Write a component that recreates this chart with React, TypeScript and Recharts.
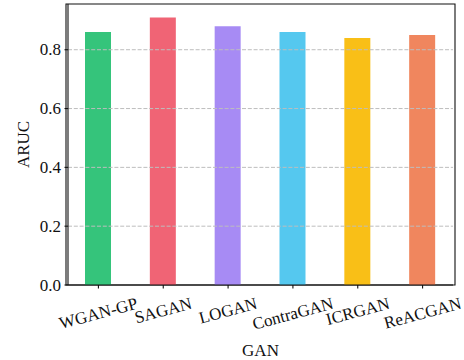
import React from "react";
import {
  Bar,
  BarChart,
  Cell,
  ReferenceArea,
  ReferenceLine,
  XAxis,
  YAxis,
} from "recharts";

const MODELS = ["WGAN-GP", "SAGAN", "LOGAN", "ContraGAN", "ICRGAN", "ReACGAN"];
const ARUC = [0.86, 0.91, 0.88, 0.86, 0.84, 0.85];
const BAR_COLORS = ["#35C47B", "#F06475", "#A78BF4", "#55C8EF", "#F9BF17", "#F0865E"];
const Y_TICKS = [0, 0.2, 0.4, 0.6, 0.8];
const GRID_TICKS = [0.2, 0.4, 0.6, 0.8];
const Y_MAX = 0.9555;

const FONT = "'Liberation Serif', 'Times New Roman', serif";
const FONT_SIZE = 17;
const AXIS_COLOR = "#111";
const GRID_COLOR = "#bdbdbd";
const ROTATION = 15;

const data = MODELS.map((name, i) => ({ name, aruc: ARUC[i] }));

let measureCtx: CanvasRenderingContext2D | null = null;
function textWidth(s: string) {
  if (!measureCtx) {
    measureCtx = document.createElement("canvas").getContext("2d");
  }
  if (!measureCtx) return s.length * FONT_SIZE * 0.6;
  measureCtx.font = `${FONT_SIZE}px 'Liberation Serif'`;
  return measureCtx.measureText(s).width;
}

function RotatedTick(props: any) {
  const { x, y, payload } = props;
  const w = textWidth(String(payload.value));
  const rad = (ROTATION * Math.PI) / 180;
  const cy = y + (w * Math.sin(rad) + 22) / 2;
  return (
    <text
      x={x}
      y={cy}
      textAnchor="middle"
      dominantBaseline="central"
      transform={`rotate(${-ROTATION} ${x} ${cy})`}
      fill={AXIS_COLOR}
      fontFamily={FONT}
      fontSize={FONT_SIZE}
    >
      {payload.value}
    </text>
  );
}

function ValueTick(props: any) {
  const { x, y, payload } = props;
  return (
    <text
      x={x}
      y={y}
      textAnchor="end"
      dominantBaseline="central"
      fill={AXIS_COLOR}
      fontFamily={FONT}
      fontSize={FONT_SIZE}
    >
      {Number(payload.value).toFixed(1)}
    </text>
  );
}

export default function App() {
  return (
    <div style={{ position: "absolute", left: 0, top: 0, background: "#fff" }}>
      <BarChart
        width={464}
        height={360}
        data={data}
        margin={{ top: 4, right: 11, left: 0, bottom: 0 }}
        barCategoryGap={0}
      >
        <XAxis
          dataKey="name"
          height={75}
          padding={{ left: -2, right: -2 }}
          interval={0}
          tickSize={3.5}
          tickMargin={3.5}
          axisLine={{ stroke: AXIS_COLOR, strokeWidth: 1.1 }}
          tickLine={{ stroke: AXIS_COLOR, strokeWidth: 1.1 }}
          tick={<RotatedTick />}
          label={(p: any) => {
            const vb = p.viewBox;
            return (
              <text
                x={vb.x + vb.width / 2}
                y={356}
                textAnchor="middle"
                fill={AXIS_COLOR}
                fontFamily={FONT}
                fontSize={FONT_SIZE}
              >
                GAN
              </text>
            );
          }}
        />
        <YAxis
          type="number"
          domain={[0, Y_MAX]}
          ticks={Y_TICKS}
          width={68}
          allowDataOverflow
          tickSize={3.5}
          tickMargin={3.5}
          axisLine={{ stroke: AXIS_COLOR, strokeWidth: 1.1 }}
          tickLine={{ stroke: AXIS_COLOR, strokeWidth: 1.1 }}
          tick={<ValueTick />}
          label={(p: any) => {
            const vb = p.viewBox;
            const lx = vb.x + 23;
            const ly = vb.y + vb.height / 2;
            return (
              <text
                x={lx}
                y={ly}
                textAnchor="middle"
                dominantBaseline="central"
                transform={`rotate(-90 ${lx} ${ly})`}
                fill={AXIS_COLOR}
                fontFamily={FONT}
                fontSize={FONT_SIZE}
              >
                ARUC
              </text>
            );
          }}
        />
        <Bar dataKey="aruc" barSize={26} isAnimationActive={false}>
          {data.map((d, i) => (
            <Cell key={d.name} fill={BAR_COLORS[i]} />
          ))}
        </Bar>
        {GRID_TICKS.map((t) => (
          <ReferenceLine
            key={t}
            y={t}
            stroke={GRID_COLOR}
            strokeWidth={1}
            strokeDasharray="4 1.8"
          />
        ))}
        <ReferenceArea
          y1={0}
          y2={Y_MAX}
          fill="none"
          fillOpacity={0}
          stroke={AXIS_COLOR}
          strokeWidth={1.1}
          ifOverflow="visible"
        />
      </BarChart>
    </div>
  );
}
